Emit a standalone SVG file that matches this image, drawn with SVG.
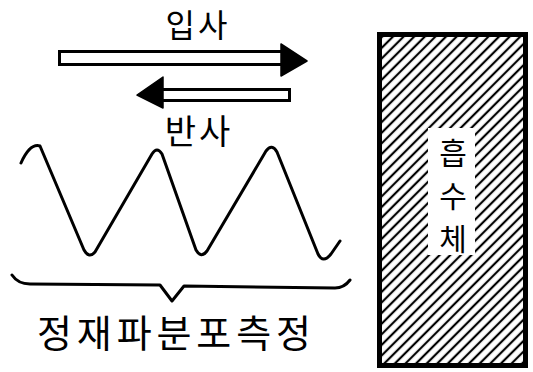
<svg xmlns="http://www.w3.org/2000/svg" width="533" height="372" viewBox="0 0 533 372">
<style>
.t{font-family:"Noto Sans CJK KR","Noto Sans",sans-serif;fill:#000;}
.ln{fill:none;stroke:#000;stroke-width:3;stroke-linecap:round;stroke-linejoin:round;}
.shaft{fill:#fff;stroke:#000;stroke-width:3;}
.head{fill:#000;stroke:#000;stroke-width:1.5;stroke-linejoin:round;}
</style>
<defs>
<pattern id="hatch" patternUnits="userSpaceOnUse" width="7.5" height="7.5" patternTransform="rotate(45)">
<line x1="3.75" y1="-1" x2="3.75" y2="8.5" stroke="#000" stroke-width="2.2"/>
</pattern>
</defs>
<rect width="533" height="372" fill="#fff"/>
<g id="connectors">
<g id="incident">
<rect class="shaft" x="59.5" y="51.5" width="223" height="13"/>
<polygon class="head" points="281,44 307,61 281,76"/>
</g>
<g id="reflected">
<rect class="shaft" x="161.5" y="89.5" width="128" height="11"/>
<polygon class="head" points="163,77 137,95 163,108"/>
</g>
</g>
<g id="label-incident"><text class="t" x="198" y="37" font-size="32" letter-spacing="3" text-anchor="middle">입사</text></g>
<g id="label-reflected"><text class="t" x="199" y="144" font-size="34" letter-spacing="3" text-anchor="middle">반사</text></g>
<g id="wave">
<path class="ln" d="M21,163 Q30,143 40,146 L84,250 Q89,259 95,252 L152,154 Q157,146 162,154 L196,250 Q201,259 207,251 L266,151 Q272,143 277,152 L318,254 Q323,264 331,254 L340,241"/>
</g>
<g id="brace">
<path class="ln" d="M12,275 Q18,284 30,284 L160,285 L172,301 L184,286 L335,288 Q344,288 350,280"/>
</g>
<g id="label-measure"><text class="t" x="37" y="347" font-size="38" textLength="274" lengthAdjust="spacing">정재파분포측정</text></g>
<g id="absorber">
<rect x="379.5" y="34.5" width="146" height="331" fill="url(#hatch)" stroke="#000" stroke-width="5"/>
<rect x="428" y="128" width="47" height="127" fill="#fff"/>
<text class="t" x="453" y="164" font-size="30" text-anchor="middle">흡</text>
<text class="t" x="453" y="207" font-size="30" text-anchor="middle">수</text>
<text class="t" x="453" y="250" font-size="30" text-anchor="middle">체</text>
</g>
</svg>
